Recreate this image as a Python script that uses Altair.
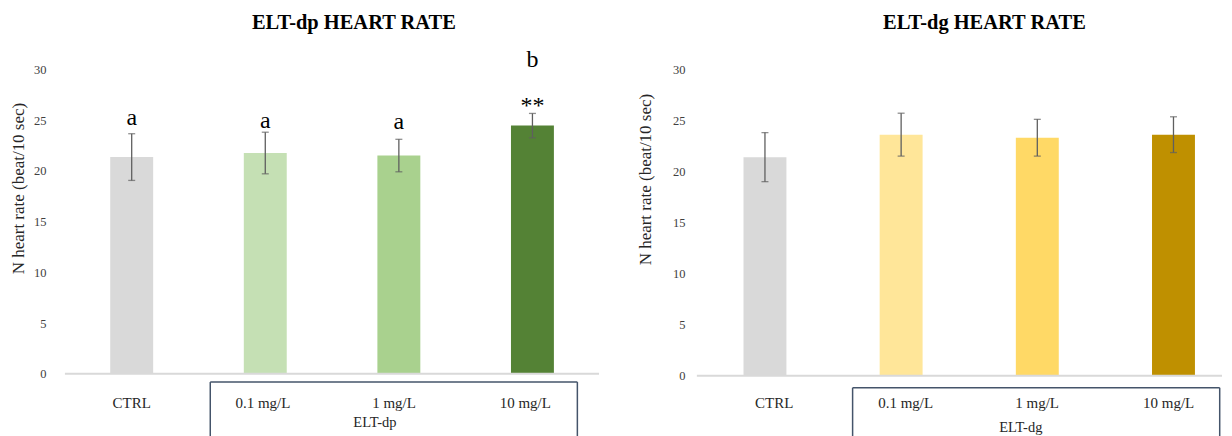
import altair as alt
import pandas as pd

SERIF = "Liberation Serif"

cats = ["CTRL", "0.1 mg/L", "1 mg/L", "10 mg/L"]
y_ticks = [0, 5, 10, 15, 20, 25, 30]

dp_mean = [21.35, 21.75, 21.5, 24.45]
dp_err = [2.3, 2.05, 1.6, 1.2]
dp_colors = ["#d9d9d9", "#c5e0b4", "#a9d18e", "#548235"]
dp_labels = ["a", "a", "a", "**", "b"]
dp_label_cats = ["CTRL", "0.1 mg/L", "1 mg/L", "10 mg/L", "10 mg/L"]
dp_label_y = [24.5, 24.2, 24.1, 25.65, 30.2]

dg_mean = [21.4, 23.6, 23.3, 23.6]
dg_err = [2.4, 2.1, 1.8, 1.75]
dg_colors = ["#d9d9d9", "#ffe699", "#ffd966", "#bf9000"]

YTITLE = "N heart rate (beat/10 sec)"
EC = "#5f5f5f"
BOX = "#44546a"
TXT = "#262626"


def panel(title, group, mean, err, colors, W, H, rng, lab_rng, title_dx, title_off,
          yt_x, yt_y, y_pad, box, grp_x, lab_dy, grp_dy, labels=None):
    df = pd.DataFrame({"cat": cats, "mean": mean, "err": err})
    df["lo"] = df["mean"] - df["err"]
    df["hi"] = df["mean"] + df["err"]

    xs = alt.Scale(domain=cats, range=rng, paddingInner=0, paddingOuter=0)
    ys = alt.Scale(domain=[0, 30])
    y_axis = alt.Axis(values=y_ticks, grid=False, domain=False, ticks=False,
                      labelPadding=y_pad, labelFont=SERIF, labelFontSize=12.5,
                      labelColor="#404040", titleFont=SERIF, titleFontSize=17,
                      titleFontWeight="normal", titleColor=TXT,
                      titleX=yt_x, titleY=yt_y, titleBaseline="middle",
                      titleAngle=270)

    def X():
        return alt.X("cat:N", sort=cats, scale=xs, axis=None)

    def Y(field):
        return alt.Y(field, scale=ys, title=YTITLE, axis=y_axis)

    bars = alt.Chart(df).mark_bar(size=43).encode(
        x=X(), y=Y("mean:Q"),
        color=alt.Color("cat:N", scale=alt.Scale(domain=cats, range=colors), legend=None),
    )
    rules = alt.Chart(df).mark_rule(color=EC, strokeWidth=1.3).encode(
        x=X(), y=Y("lo:Q"), y2="hi:Q")
    cap_lo = alt.Chart(df).mark_tick(color=EC, thickness=1.3, size=7).encode(
        x=X(), y=Y("lo:Q"))
    cap_hi = alt.Chart(df).mark_tick(color=EC, thickness=1.3, size=7).encode(
        x=X(), y=Y("hi:Q"))

    edge = pd.DataFrame({"k": [0]})
    base = alt.Chart(edge).mark_rule(color="#d9d9d9", strokeWidth=2.2).encode(
        x=alt.value(0), x2=alt.value(W), y=alt.value(H))

    bx0, bx1, by0 = box
    by1 = H + 90
    b_left = alt.Chart(edge).mark_rule(color=BOX, strokeWidth=1.5).encode(
        x=alt.value(bx0), y=alt.value(by0), y2=alt.value(by1))
    b_right = alt.Chart(edge).mark_rule(color=BOX, strokeWidth=1.5).encode(
        x=alt.value(bx1), y=alt.value(by0), y2=alt.value(by1))
    b_top = alt.Chart(edge).mark_rule(color=BOX, strokeWidth=1.5).encode(
        x=alt.value(bx0), x2=alt.value(bx1), y=alt.value(by0))

    grp = alt.Chart(edge).mark_text(font=SERIF, fontSize=14.5, color=TXT,
                                    baseline="middle").encode(
        x=alt.value(grp_x), y=alt.value(H + grp_dy), text=alt.value(group))

    layers = [bars, rules, cap_lo, cap_hi, base, b_left, b_right, b_top, grp]
    if labels is not None:
        ldf = pd.DataFrame({"cat": labels[0], "label": labels[1], "ly": labels[2]})
        txt = alt.Chart(ldf).mark_text(font=SERIF, fontSize=24, baseline="alphabetic",
                                       color="black").encode(
            x=X(), y=Y("ly:Q"), text="label:N")
        layers.append(txt)

    main = alt.layer(*layers)

    cat_labels = alt.Chart(df).mark_text(font=SERIF, fontSize=15, color=TXT,
                                         baseline="middle").encode(
        x=alt.X("cat:N", sort=cats,
                scale=alt.Scale(domain=cats, range=lab_rng, paddingInner=0, paddingOuter=0),
                axis=None),
        y=alt.value(H + lab_dy),
        text="cat:N",
    )

    return alt.layer(main, cat_labels).resolve_scale(x="independent").properties(
        width=W, height=H,
        title=alt.TitleParams(title, font=SERIF, fontSize=20.5, fontWeight="bold",
                              color="black", dx=title_dx, frame="group",
                              offset=title_off),
    )


left = panel("ELT-dp HEART RATE", "ELT-dp", dp_mean, dp_err, dp_colors,
             W=535, H=305, rng=[0, 535.2], lab_rng=[1.2, 526.8],
             title_dx=22, title_off=15, yt_x=-46, yt_y=119, y_pad=19,
             box=(145.6, 513.3, 313.3), grp_x=310.5, lab_dy=29, grp_dy=49,
             labels=(dp_label_cats, dp_labels, dp_label_y))
right = panel("ELT-dg HEART RATE", "ELT-dg", dg_mean, dg_err, dg_colors,
              W=526, H=307, rng=[0, 545.6], lab_rng=[11.6, 538.4],
              title_dx=25, title_off=30, yt_x=-51.5, yt_y=110, y_pad=12,
              box=(156, 523.7, 319), grp_x=324.5, lab_dy=27, grp_dy=52)

chart = alt.hconcat(left, right, spacing=35).resolve_scale(
    color="independent"
).configure(
    padding={"left": 1, "top": 4, "right": 0, "bottom": 0}
).configure_view(stroke=None)

chart.save("out.html", embed_options={"renderer": "svg", "actions": False})
